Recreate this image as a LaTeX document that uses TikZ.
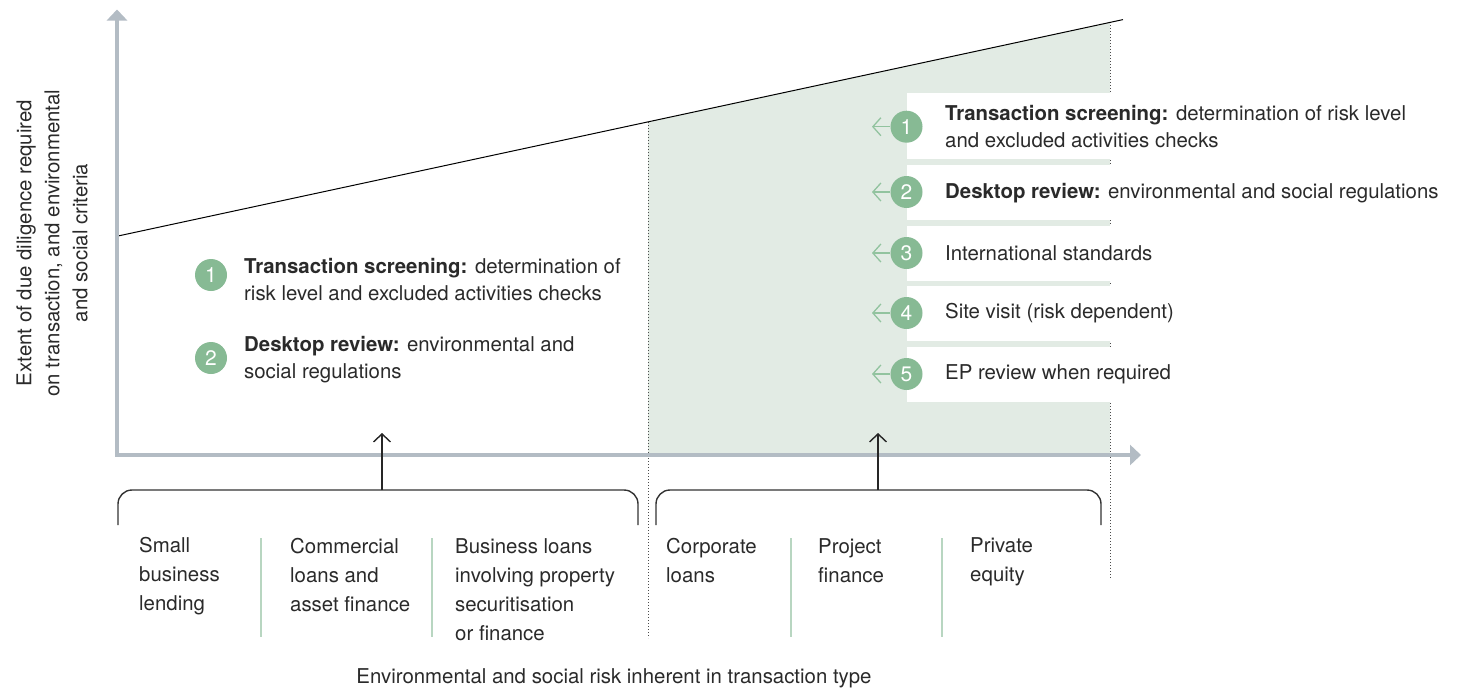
\documentclass[tikz,border=0pt]{standalone}
\usepackage{fontspec}
\setmainfont{TeX Gyre Heros}
\usetikzlibrary{arrows.meta}
\definecolor{axisgrey}{HTML}{B3BCC4}
\definecolor{zonegreen}{HTML}{E2EBE4}
\definecolor{dotgreen}{HTML}{87BA94}
\definecolor{arrgreen}{HTML}{92C39F}
\definecolor{sepgreen}{HTML}{B8D6C1}
\definecolor{txt}{HTML}{2A2A2A}
\begin{document}
\begin{tikzpicture}[x=1pt,y=-1pt,
  lbl/.style={inner sep=0, text=txt, font=\fontsize{20.4}{29}\selectfont, align=left, anchor=west},
  item/.style={inner sep=0, text=txt, font=\fontsize{20.4}{27}\selectfont, align=left, anchor=west},
  num/.style={circle, fill=dotgreen, minimum size=32pt, inner sep=0, text=white, font=\fontsize{21}{24}\selectfont},
  axisline/.style={draw=axisgrey, line width=3.5pt, line join=miter, {Triangle[width=20pt,length=11pt]}-{Triangle[width=20pt,length=11pt]}},
  garrow/.style={draw=arrgreen, line width=1.3pt, -{Straight Barb[length=8pt,width=18pt]}},
  uparrow/.style={draw=black!85, line width=1.4pt, -{Straight Barb[length=8pt,width=17pt]}},
  bracket/.style={draw=black!80, line width=1.4pt, rounded corners=14pt},
  sep/.style={draw=sepgreen, line width=1.5pt},
  dotline/.style={draw=black!70, line width=1pt, dotted},
  whitebox/.style={fill=white, draw=none}
]
\useasboundingbox (0,0) rectangle (1466,688);

% green zone
\fill[zonegreen] (648,121.9) -- (1110,22.4) -- (1110,455) -- (648,455) -- cycle;
% dotted verticals
\draw[dotline] (648,122) -- (648,638);
\draw[dotline] (1110,22) -- (1110,578);
% white boxes
\foreach \ya/\yb in {93/159, 165/220, 226/281, 286/341, 347/402}
  \fill[whitebox] (907,\ya) rectangle (1113,\yb);
% diagonal line
\draw[black, line width=1pt] (118,236) -- (1123,19.6);

% axes
\coordinate (ytop) at (117,9.5);
\coordinate (orig) at (117,455);
\coordinate (xend) at (1141,455);
\draw[axisline] (ytop) -- (orig) -- (xend);

% right list
\node[num] (rc1) at (906.5,126.7) {1};
\node[num] (rc2) at (906.5,192) {2};
\node[num] (rc3) at (906.5,253) {3};
\node[num] (rc4) at (906.5,313) {4};
\node[num] (rc5) at (906.5,374) {5};
\foreach \i/\y in {1/126.7, 2/192, 3/253, 4/313, 5/374} {
  \coordinate (ra\i) at (872,\y);
  \draw[garrow] (rc\i.west) -- (ra\i);
}
\node[item] (r1) at (945,126.5) {\textbf{Transaction screening:} determination of risk level\\and excluded activities checks};
\node[item] (r2) at (945,193) {\textbf{Desktop review:} environmental and social regulations};
\node[item] (r3) at (945,253) {International standards};
\node[item] (r4) at (945,313) {Site visit (risk dependent)};
\node[item] (r5) at (945,374) {EP review when required};

% left list
\node[num] (lc1) at (211,275) {1};
\node[num] (lc2) at (211,358) {2};
\node[item] (l1) at (244,280) {\textbf{Transaction screening:} determination of\\risk level and excluded activities checks};
\node[item] (l2) at (244,360) {\textbf{Desktop review:} environmental and\\social regulations};

% brackets and arrows
\draw[bracket] (118,525) -- (118,490) -- (638,490) -- (638,525);
\draw[bracket] (656,525) -- (656,490) -- (1101,490) -- (1101,525);
\coordinate (bt1) at (382,490);
\coordinate (ut1) at (382,433);
\coordinate (bt2) at (878,490);
\coordinate (ut2) at (878,433);
\draw[uparrow] (bt1) -- (ut1);
\draw[uparrow] (bt2) -- (ut2);

% separators
\foreach \x in {261,432,791,942}
  \draw[sep] (\x,538) -- (\x,637);

% bottom labels
\node[lbl] (b1) at (139,576) {Small\\business\\lending};
\node[lbl] (b2) at (290,575) {Commercial\\loans and\\asset finance};
\node[lbl] (b3) at (455,589.5) {Business loans\\involving property\\securitisation\\or finance};
\node[lbl] (b4) at (666,560.5) {Corporate\\loans};
\node[lbl] (b5) at (818,560.5) {Project\\finance};
\node[lbl] (b6) at (970,562) {Private\\equity};

% axis labels
\node[lbl, align=center, anchor=center, rotate=90, font=\fontsize{20.4}{28}\selectfont] (ylab) at (52,243) {Extent of due diligence required\\on transaction, and environmental\\and social criteria};
\node[lbl, anchor=center] (xlab) at (614,678) {Environmental and social risk inherent in transaction type};
\end{tikzpicture}
\end{document}
